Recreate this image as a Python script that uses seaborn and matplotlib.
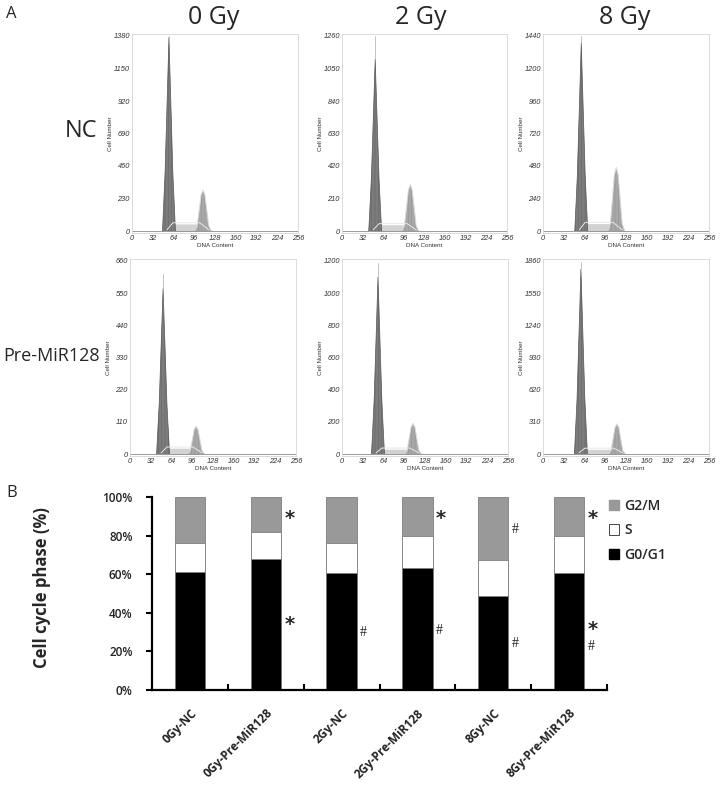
import matplotlib
matplotlib.use("Agg")
import matplotlib.pyplot as plt
import seaborn as sns
import pandas as pd
from matplotlib.patches import Patch

# ---------------- data ----------------
DOSES = ["0 Gy", "2 Gy", "8 Gy"]
GROUPS = ["NC", "Pre-MiR128"]

# flow-cytometry panels (row-major: NC 0/2/8 Gy, Pre-MiR128 0/2/8 Gy)
HIST_YMAX = [1380, 1260, 1440, 660, 1200, 1860]
G1_POS = [57, 51.5, 59, 51, 55.5, 58.5]
G1_HEIGHT = [1370, 1110, 1390, 565, 1100, 1780]
G1_TRACE_MAX = [1380, 1260, 1440, 615, 1190, 1850]
S_LEVEL = [50, 40, 55, 20, 30, 45]
G2_POS = [109.5, 106, 113, 102, 109.5, 114]
G2_HEIGHT = [290, 300, 470, 95, 190, 290]
DNA_TICKS = [0, 32, 64, 96, 128, 160, 192, 224, 256]

# cell-cycle distribution (%)
CATEGORIES = ["0Gy-NC", "0Gy-Pre-MiR128", "2Gy-NC", "2Gy-Pre-MiR128",
              "8Gy-NC", "8Gy-Pre-MiR128"]
G0G1 = [61, 68, 60.5, 63, 48.5, 60.5]
S_PHASE = [15, 14, 15.5, 17, 19, 19.5]
G2M = [24, 18, 24, 20, 32.5, 20]
PHASES = ["G2/M", "S", "G0/G1"]
PCT_TICKS = [0, 20, 40, 60, 80, 100]

# significance marks
MARK_BAR = [1, 1, 2, 3, 3, 4, 4, 5, 5, 5]
MARK_Y = [89, 34, 30, 89, 31, 83, 24, 89, 31.5, 22.5]
MARK_SYM = ["*", "*", "#", "*", "#", "#", "#", "*", "*", "#"]

# ---------------- style ----------------
sns.set_theme(style="white")
plt.rcParams["font.family"] = ["Open Sans", "DejaVu Sans"]
plt.rcParams["hatch.linewidth"] = 0.4

G1_DX = [-10, -6, -3, 0, 3, 6, 10]
G1_FR = [0, 0.3, 0.65, 1, 0.65, 0.3, 0]
G2_DX = [-13, -9, -6, -3, 0, 3, 6, 9, 13]
G2_FR = [0, 0.12, 0.5, 0.88, 1, 0.88, 0.5, 0.12, 0]

W, H = 720, 788
fig = plt.figure(figsize=(W / 100, H / 100), dpi=100)


def box(x0, y0, x1, y1):
    return [x0 / W, 1 - y1 / H, (x1 - x0) / W, (y1 - y0) / H]


def ftext(x, y, s, **kw):
    fig.text(x / W, 1 - y / H, s, **kw)


COLS = [[(132, 298), (342, 507), (543, 709)],
        [(130, 296), (342, 508), (543, 709)]]
ROWS = [(34, 233), (259, 456)]

small = dict(family=["Liberation Sans", "DejaVu Sans"], style="italic")

for r in range(2):
    for c in range(3):
        i = r * 3 + c
        x0, x1 = COLS[r][c]
        y0, y1 = ROWS[r]
        ax = fig.add_axes(box(x0, y0, x1, y1))
        ymax = HIST_YMAX[i]
        pad = ymax * 2 / 195
        g1p, g1h = G1_POS[i], G1_HEIGHT[i]
        g2p, g2h = G2_POS[i], G2_HEIGHT[i]
        s = S_LEVEL[i]
        # S phase plateau
        sx = [g1p - 3, g1p + 6, g2p - 5, g2p + 9]
        sy = [0, s, s, 0]
        ax.fill_between(sx, sy, color="#d2d2d2", lw=0)
        # G2 peak
        gx2 = [g2p + d for d in G2_DX]
        gy2 = [g2h * f for f in G2_FR]
        ax.fill_between(gx2, gy2, color="#a8a8a8", lw=0, hatch="|||||",
                        edgecolor="#939393")
        # G1 peak
        gx1 = [g1p + d for d in G1_DX]
        gy1 = [g1h * f for f in G1_FR]
        ax.fill_between(gx1, gy1, color="#7c7c7c", lw=0, hatch="|||||",
                        edgecolor="#666666")
        sns.lineplot(x=gx1, y=gy1, ax=ax, color="#555555", lw=0.5, sort=False)
        sns.lineplot(x=gx2, y=gy2, ax=ax, color="#dcdcdc", lw=0.7, sort=False)
        sns.lineplot(x=sx, y=[v + ymax * 0.006 for v in sy], ax=ax,
                     color="#e8e8e8", lw=0.7, sort=False)
        ax.plot([g1p, g1p], [g1h, G1_TRACE_MAX[i]], color="#aaaaaa", lw=0.5)
        ax.axhline(0, color="#8a8a8a", lw=0.6)
        ax.set_xlim(0, 256)
        ax.set_ylim(-pad, ymax + pad)
        ax.set_xticks(DNA_TICKS)
        ax.set_xticklabels([str(t) for t in DNA_TICKS], fontsize=5.3,
                           color="#333333", **small)
        yt = [ymax * k / 6 for k in range(7)]
        ax.set_yticks(yt)
        ax.set_yticklabels([f"{int(round(v))}" for v in yt], fontsize=5.3,
                           color="#333333", **small)
        ax.tick_params(axis="both", length=0, pad=1.5)
        ax.set_xlabel("DNA Content", fontsize=4.5, color="#333333",
                      family=["Liberation Sans", "DejaVu Sans"], labelpad=0.5)
        ax.set_ylabel("Cell Number", fontsize=4.5, color="#333333",
                      family=["Liberation Sans", "DejaVu Sans"])
        ax.yaxis.set_label_coords(-19 / (x1 - x0), 0.5)
        for sp in ax.spines.values():
            sp.set_color("#d4d4d4")
            sp.set_linewidth(0.6)
        ax.set_facecolor("white")

# titles / labels for panel A
for x, t in zip([214, 421, 625], DOSES):
    ftext(x, 17, t, fontsize=18, ha="center", va="center")
ftext(97, 131, GROUPS[0], fontsize=17, ha="right", va="center")
ftext(100, 356, GROUPS[1], fontsize=13, ha="right", va="center")
ftext(6, 14, "A", fontsize=12, ha="left", va="center")
ftext(6, 493, "B", fontsize=12, ha="left", va="center")

# ---------------- panel B ----------------
axb = fig.add_axes(box(152, 497, 607, 690))
df = pd.DataFrame({"cat": CATEGORIES, "g1": G0G1, "s": S_PHASE, "g2": G2M})
df["top_s"] = df["g1"] + df["s"]
df["top_g2"] = df["top_s"] + df["g2"]
common = dict(x="cat", order=CATEGORIES, width=0.4, errorbar=None,
              edgecolor="#7f7f7f", linewidth=0.6, ax=axb)
sns.barplot(data=df, y="top_g2", color="#999999", saturation=1, **common)
sns.barplot(data=df, y="top_s", color="white", saturation=1, **common)
sns.barplot(data=df, y="g1", color="black", saturation=1, **common)

axb.set_xlim(-0.5, 5.5)
axb.set_ylim(0, 100)
axb.set_yticks(PCT_TICKS)
axb.set_yticklabels([f"{t}%" for t in PCT_TICKS], fontsize=8.5,
                    fontweight="semibold", color="#222222")
axb.set_xticks(range(len(CATEGORIES)))
axb.set_xticklabels(CATEGORIES, rotation=45, ha="right",
                    rotation_mode="anchor", fontsize=8.5,
                    fontweight="bold", color="#222222")
axb.set_xticks([k + 0.5 for k in range(len(CATEGORIES))], minor=True)
axb.tick_params(axis="x", which="major", length=0, pad=12)
axb.tick_params(axis="x", which="minor", direction="in", length=4,
                width=1.5, color="black", bottom=True)
axb.tick_params(axis="y", direction="out", length=4, width=1.5,
                color="black", left=True, pad=10)
axb.set_xlabel("")
axb.set_ylabel("")
for side in ["top", "right"]:
    axb.spines[side].set_visible(False)
for side in ["left", "bottom"]:
    axb.spines[side].set_color("black")
    axb.spines[side].set_linewidth(1.6)

for b, y, sym in zip(MARK_BAR, MARK_Y, MARK_SYM):
    if sym == "*":
        axb.text(b + 0.31, y, sym, fontsize=14, fontweight="bold",
                 ha="center", va="center", family=["DejaVu Sans"])
    else:
        axb.text(b + 0.29, y, sym, fontsize=10, ha="center", va="center",
                 family=["Liberation Serif", "DejaVu Serif"], color="#222222")

ftext(42, 588, "Cell cycle phase (%)", fontsize=12, fontweight="bold",
      rotation=90, ha="center", va="center")

handles = [Patch(facecolor="#999999", edgecolor="#999999"),
           Patch(facecolor="white", edgecolor="#444444", linewidth=0.7),
           Patch(facecolor="black", edgecolor="black")]
fig.legend(handles, PHASES, loc="upper left",
           bbox_to_anchor=(609 / W, 1 - 499 / H), frameon=False,
           prop={"weight": "semibold", "size": 10},
           handlelength=0.75, handleheight=0.75, handletextpad=0.35,
           labelspacing=0.75, borderpad=0, borderaxespad=0)

fig.savefig("out.png", dpi=100, facecolor="white")
